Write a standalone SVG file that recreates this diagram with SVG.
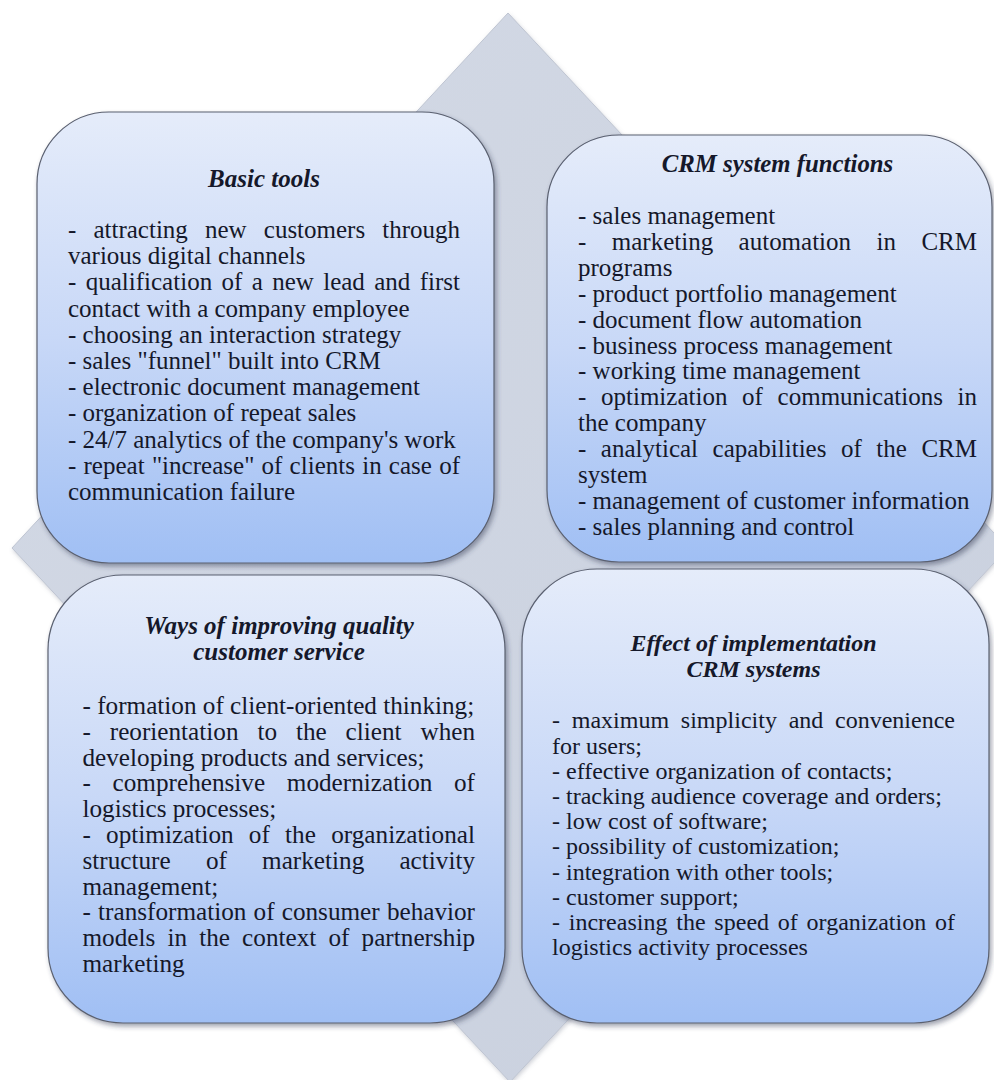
<svg xmlns="http://www.w3.org/2000/svg" width="994" height="1080" viewBox="0 0 994 1080">
<defs>
  <linearGradient id="boxFill" x1="0" y1="0" x2="0" y2="1">
    <stop offset="0" stop-color="#e5ecfa"/>
    <stop offset="0.5" stop-color="#c8d8f7"/>
    <stop offset="1" stop-color="#a0bff4"/>
  </linearGradient>
  <linearGradient id="diaFill" x1="0" y1="0" x2="1" y2="1">
    <stop offset="0" stop-color="#d3d9e5"/>
    <stop offset="1" stop-color="#c9d0de"/>
  </linearGradient>
  <filter id="shadow" x="-10%" y="-10%" width="120%" height="120%">
    <feDropShadow dx="2" dy="3" stdDeviation="2.5" flood-color="#2a3350" flood-opacity="0.45"/>
  </filter>
  <filter id="dshadow" x="-5%" y="-5%" width="110%" height="110%">
    <feDropShadow dx="1" dy="2" stdDeviation="2" flood-color="#7a8090" flood-opacity="0.35"/>
  </filter>
</defs>
<style>
  .box { fill: url(#boxFill); stroke: #5a6070; stroke-width: 1.2; filter: url(#shadow); }
  .txt { font-family: "Liberation Serif", "Times New Roman", serif; fill: #15182a; }
  .ttl { font-family: "Liberation Serif", "Times New Roman", serif; fill: #15182a; font-weight: bold; font-style: italic; text-anchor: middle; }
</style>
<rect width="994" height="1080" fill="#ffffff"/>

<g id="diamond">
  <polygon points="508,13 1008,548 510,1082 12,548" fill="url(#diaFill)" stroke="#bfc5d2" stroke-width="1" filter="url(#dshadow)"/>
</g>

<g id="basic-tools">
  <rect class="box" x="37" y="112" width="457" height="451" rx="72" ry="72"/>
  <text class="ttl" x="264" y="187" font-size="25">Basic tools</text>
  <g class="txt" font-size="25">
    <text x="68" y="238" textLength="392" lengthAdjust="spacing" style="word-spacing:10.9px">- attracting new customers through</text>
    <text x="68" y="264.2">various digital channels</text>
    <text x="68" y="290.4" textLength="392" lengthAdjust="spacing" style="word-spacing:3.1px">- qualification of a new lead and first</text>
    <text x="68" y="316.6">contact with a company employee</text>
    <text x="68" y="342.8">- choosing an interaction strategy</text>
    <text x="68" y="369">- sales "funnel" built into CRM</text>
    <text x="68" y="395.2">- electronic document management</text>
    <text x="68" y="421.4">- organization of repeat sales</text>
    <text x="68" y="447.6">- 24/7 analytics of the company's work</text>
    <text x="68" y="473.8" textLength="392" lengthAdjust="spacing" style="word-spacing:0.9px">- repeat "increase" of clients in case of</text>
    <text x="68" y="500">communication failure</text>
  </g>
</g>

<g id="crm-functions">
  <rect class="box" x="547" y="135" width="445" height="427" rx="72" ry="72"/>
  <text class="ttl" x="777.5" y="172" font-size="24.8">CRM system functions</text>
  <g class="txt" font-size="25">
    <text x="578" y="224">- sales management</text>
    <text x="578" y="249.9" textLength="399" lengthAdjust="spacing" style="word-spacing:19.2px">- marketing automation in CRM</text>
    <text x="578" y="275.8">programs</text>
    <text x="578" y="301.7">- product portfolio management</text>
    <text x="578" y="327.6">- document flow automation</text>
    <text x="578" y="353.5">- business process management</text>
    <text x="578" y="379.4">- working time management</text>
    <text x="578" y="405.3" textLength="399" lengthAdjust="spacing" style="word-spacing:8.4px">- optimization of communications in</text>
    <text x="578" y="431.2">the company</text>
    <text x="578" y="457.1" textLength="399" lengthAdjust="spacing" style="word-spacing:8.3px">- analytical capabilities of the CRM</text>
    <text x="578" y="483">system</text>
    <text x="578" y="508.9">- management of customer information</text>
    <text x="578" y="534.8">- sales planning and control</text>
  </g>
</g>

<g id="ways-improving">
  <rect class="box" x="48" y="575" width="457" height="448" rx="75" ry="75"/>
  <text class="ttl" x="279" y="634" font-size="25">Ways of improving quality</text>
  <text class="ttl" x="279" y="660" font-size="25">customer service</text>
  <g class="txt" font-size="25.2">
    <text x="82.5" y="714">- formation of client-oriented thinking;</text>
    <text x="82.5" y="739.8" textLength="392.5" lengthAdjust="spacing" style="word-spacing:12.6px">- reorientation to the client when</text>
    <text x="82.5" y="765.6">developing products and services;</text>
    <text x="82.5" y="791.4" textLength="392.5" lengthAdjust="spacing" style="word-spacing:15.4px">- comprehensive modernization of</text>
    <text x="82.5" y="817.2">logistics processes;</text>
    <text x="82.5" y="843" textLength="392.5" lengthAdjust="spacing" style="word-spacing:8.9px">- optimization of the organizational</text>
    <text x="82.5" y="868.8" textLength="392.5" lengthAdjust="spacing" style="word-spacing:28.9px">structure of marketing activity</text>
    <text x="82.5" y="894.6">management;</text>
    <text x="82.5" y="920.4" textLength="392.5" lengthAdjust="spacing" style="word-spacing:0.9px">- transformation of consumer behavior</text>
    <text x="82.5" y="946.2" textLength="392.5" lengthAdjust="spacing" style="word-spacing:5.8px">models in the context of partnership</text>
    <text x="82.5" y="972">marketing</text>
  </g>
</g>

<g id="effect-implementation">
  <rect class="box" x="522" y="569" width="467" height="454" rx="75" ry="75"/>
  <text class="ttl" x="753.5" y="651" font-size="24">Effect of implementation</text>
  <text class="ttl" x="753.5" y="677" font-size="24">CRM systems</text>
  <g class="txt" font-size="24">
    <text x="552" y="728.3" textLength="403" lengthAdjust="spacing" style="word-spacing:5.75px">- maximum simplicity and convenience</text>
    <text x="552" y="753.5">for users;</text>
    <text x="552" y="778.7">- effective organization of contacts;</text>
    <text x="552" y="803.9">- tracking audience coverage and orders;</text>
    <text x="552" y="829.1">- low cost of software;</text>
    <text x="552" y="854.3">- possibility of customization;</text>
    <text x="552" y="879.5">- integration with other tools;</text>
    <text x="552" y="904.7">- customer support;</text>
    <text x="552" y="929.9" textLength="403" lengthAdjust="spacing" style="word-spacing:2.7px">- increasing the speed of organization of</text>
    <text x="552" y="955.1">logistics activity processes</text>
  </g>
</g>
</svg>
